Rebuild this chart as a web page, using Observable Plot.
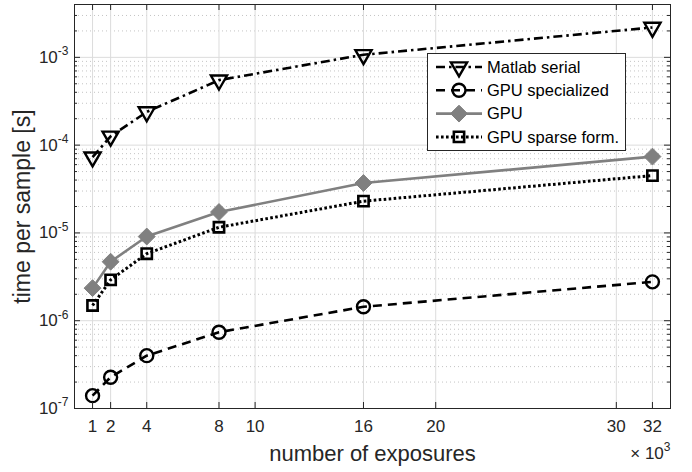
<!DOCTYPE html>
<html><head><meta charset="utf-8">
<script src="https://cdn.jsdelivr.net/npm/d3@7"></script>
<script src="https://cdn.jsdelivr.net/npm/@observablehq/plot@0.6"></script>
<style>
body{margin:0;background:#fff;}
#chart{position:relative;width:692px;height:472px;}
</style></head><body><div id="chart"></div>
<script>
// ---- data (x in thousands of exposures, y in seconds) ----
const exposures = [1, 2, 4, 8, 16, 32];
const matlabSerial = [7.3e-5, 1.26e-4, 2.39e-4, 5.5e-4, 1.07e-3, 2.19e-3];
const gpuSpecialized = [1.4e-7, 2.27e-7, 4.0e-7, 7.4e-7, 1.44e-6, 2.77e-6];
const gpu = [2.35e-6, 4.7e-6, 9.1e-6, 1.73e-5, 3.7e-5, 7.4e-5];
const gpuSparse = [1.49e-6, 2.92e-6, 5.8e-6, 1.16e-5, 2.3e-5, 4.5e-5];
const seriesNames = ["Matlab serial", "GPU specialized", "GPU", "GPU sparse form."];
const xTicks = [1, 2, 4, 8, 10, 16, 20, 30, 32];
const yDecades = [1e-7, 1e-6, 1e-5, 1e-4, 1e-3];
const yMinorMult = [2, 3, 4, 5, 6, 7, 8, 9];
const xDomain = [0, 33];
const yDomain = [1e-7, 4e-3];
const xLabel = "number of exposures";
const yLabel = "time per sample [s]";
const xExponent = "× 10^3";

// ---- layout ----
const W = 692, H = 472;
const mL = 74, mR = 22, mT = 4, mB = 64;
const innerW = W - mL - mR, innerH = H - mT - mB;
const axisColor = "#262626";
const FONT = "'Liberation Sans', Arial, Helvetica, sans-serif";
const TICK_FS = 17;

const yMinor = yDecades.flatMap(d => yMinorMult.map(m => d * m)).filter(v => v < yDomain[1]);

const triangleDown = {
  draw(ctx, size) {
    const y = -Math.sqrt(size / (Math.sqrt(3) * 3));
    ctx.moveTo(0, -2 * y);
    ctx.lineTo(-Math.sqrt(3) * y, y);
    ctx.lineTo(Math.sqrt(3) * y, y);
    ctx.closePath();
  }
};

const styles = [
  {values: matlabSerial, stroke: "#000", dash: "9,4,2.5,4", width: 2.6, symbol: triangleDown, r: 6, fill: "none", mStroke: "#000", mWidth: 2.4},
  {values: gpuSpecialized, stroke: "#000", dash: "9,6", width: 2.6, symbol: d3.symbolCircle, r: 6.5, fill: "none", mStroke: "#000", mWidth: 2.4},
  {values: gpu, stroke: "#808080", dash: null, width: 2.6, symbol: d3.symbolDiamond2, r: 7.6, fill: "#808080", mStroke: "#808080", mWidth: 1},
  {values: gpuSparse, stroke: "#000", dash: "2.6,2.4", width: 3, symbol: d3.symbolSquare, r: 5.8, fill: "none", mStroke: "#000", mWidth: 2.6}
];
const rows = s => exposures.map((x, i) => ({x, y: s.values[i]}));

const marks = [
  Plot.ruleY(yMinor, {stroke: "#c4c4c4", strokeDasharray: "1,3"}),
  Plot.ruleY(yDecades, {stroke: "#dcdcdc"}),
  Plot.ruleX(xTicks, {stroke: "#dcdcdc"}),
  ...styles.flatMap(s => [
    Plot.line(rows(s), {x: "x", y: "y", stroke: s.stroke, strokeWidth: s.width,
      strokeDasharray: s.dash || undefined, strokeLinecap: "butt", strokeLinejoin: "miter"}),
    Plot.dot(rows(s), {x: "x", y: "y", symbol: s.symbol, r: s.r, fill: s.fill, stroke: s.mStroke, strokeWidth: s.mWidth})
  ]),
  Plot.frame({stroke: axisColor}),
  Plot.ruleX(xTicks, {stroke: axisColor, insetTop: innerH - 6}),
  Plot.ruleX(xTicks, {stroke: axisColor, insetBottom: innerH - 6}),
  Plot.ruleY(yDecades, {stroke: axisColor, insetRight: innerW - 6}),
  Plot.ruleY(yDecades, {stroke: axisColor, insetLeft: innerW - 6}),
  Plot.ruleY(yMinor, {stroke: axisColor, insetRight: innerW - 3}),
  Plot.ruleY(yMinor, {stroke: axisColor, insetLeft: innerW - 3}),
  Plot.axisX(xTicks, {tickSize: 0, tickPadding: 11, fontSize: TICK_FS, label: null}),
  Plot.axisY(yDecades, {tickSize: 0, tickPadding: 6, fontSize: TICK_FS, label: null,
    tickFormat: d => "10^" + Math.round(Math.log10(d))}),
  Plot.text([xLabel], {frameAnchor: "bottom", dy: 45, lineAnchor: "middle", textAnchor: "middle", fontSize: 22, fill: axisColor}),
  Plot.text([xExponent], {frameAnchor: "bottom-right", dy: 45, lineAnchor: "middle", textAnchor: "end", fontSize: TICK_FS, fill: axisColor}),
  Plot.text([yLabel], {frameAnchor: "left", dx: -52, rotate: -90, lineAnchor: "middle", textAnchor: "middle", fontSize: 23, fill: axisColor})
];

const svg = Plot.plot({
  width: W, height: H,
  marginLeft: mL, marginRight: mR, marginTop: mT, marginBottom: mB,
  x: {type: "linear", domain: xDomain},
  y: {type: "log", domain: yDomain},
  style: {fontFamily: FONT, fontSize: TICK_FS + "px", color: axisColor, background: "#fff"},
  marks
});

// tick label font size
d3.select(svg).selectAll("text")
  .filter(function () { return /^(\d+|10\^-?\d+)$/.test(this.textContent); })
  .style("font-size", TICK_FS + "px");

// superscripts
const ns = "http://www.w3.org/2000/svg";
d3.select(svg).selectAll("text").each(function () {
  if (this.querySelector("tspan")) return;
  const t = this.textContent;
  const i = t.indexOf("^");
  if (i < 0) return;
  this.textContent = "";
  const a = document.createElementNS(ns, "tspan");
  a.textContent = t.slice(0, i);
  const b = document.createElementNS(ns, "tspan");
  b.setAttribute("dy", "-7.5");
  b.style.fontSize = "12px";
  b.textContent = t.slice(i + 1);
  this.append(a, b);
});

// legend
const lg = d3.select(svg).append("g").attr("transform", "translate(427,53)")
  .attr("font-family", FONT).attr("font-size", 16.5).attr("text-anchor", "start");
lg.append("rect").attr("x", 0.5).attr("y", 0.5).attr("width", 198).attr("height", 97)
  .attr("fill", "#fff").attr("stroke", axisColor);
seriesNames.forEach((name, i) => {
  const s = styles[i];
  const y = 14 + i * 23.3;
  const g = lg.append("g").attr("transform", `translate(0,${y})`);
  g.append("line").attr("x1", 9).attr("x2", 55).attr("y1", 0).attr("y2", 0)
    .attr("stroke", s.stroke).attr("stroke-width", s.width).attr("stroke-dasharray", s.dash);
  g.append("path").attr("transform", "translate(32,0)")
    .attr("d", d3.symbol(s.symbol, Math.PI * s.r * s.r)())
    .attr("fill", s.fill).attr("stroke", s.mStroke).attr("stroke-width", s.mWidth);
  g.append("text").attr("x", 60).attr("y", 0).attr("dy", "0.35em").attr("fill", "#000").text(name);
});

document.getElementById("chart").append(svg);
</script></body></html>
